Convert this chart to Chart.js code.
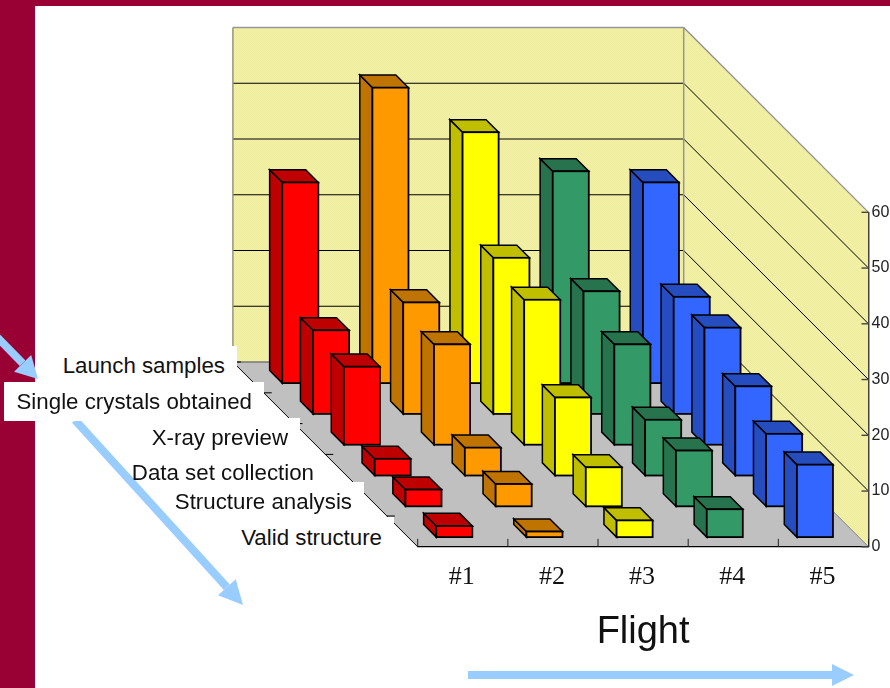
<!DOCTYPE html>
<html>
<head>
<meta charset="utf-8">
<title>Crystal growth flights</title>
<style>
    html, body { margin: 0; padding: 0; background: #fff; }
    #page { position: relative; width: 890px; height: 688px; overflow: hidden; background: #fff; }
    #strip-top { position: absolute; left: 0; top: 0; width: 890px; height: 6px; background: #990033; }
    #strip-left { position: absolute; left: 0; top: 0; width: 35px; height: 688px; background: #990033; }
    #status-chart { position: absolute; left: 0; top: 0; }
    .row-label { position: absolute; box-sizing: border-box; text-align: right; color: #111;
                 font: 22.3px "Liberation Sans", Arial, sans-serif; white-space: nowrap; background: #fff; }
    #row-0 { left: 40px;  top: 346px; width: 197px; height: 36px; line-height: 39px; padding-right: 12px; }
    #row-1 { left: 4px;   top: 382px; width: 260px; height: 39px; line-height: 40px; padding-right: 12px; }
    #row-2 { left: 130px; top: 418px; width: 170px; height: 36px; line-height: 40px; padding-right: 12px; }
    #row-3 { left: 120px; top: 456px; width: 194px; height: 26px; line-height: 34px; background: none; }
    #row-4 { left: 172px; top: 482px; width: 192px; height: 35px; line-height: 40px; padding-right: 12px; }
    #row-5 { left: 225px; top: 517px; width: 169px; height: 38px; line-height: 42px; padding-right: 12px; }
</style>
</head>
<body>
<div id="page">
    <div id="strip-top"></div>
    <div id="strip-left"></div>
    <canvas id="status-chart" width="890" height="688"></canvas>
    <div class="row-label" id="row-0"></div>
    <div class="row-label" id="row-1"></div>
    <div class="row-label" id="row-2"></div>
    <div class="row-label" id="row-3"></div>
    <div class="row-label" id="row-4"></div>
    <div class="row-label" id="row-5"></div>
</div>
<script src="https://cdn.jsdelivr.net/npm/chart.js@4"></script>
<script>
// Chart values, back row first
const flights = ['#1', '#2', '#3', '#4', '#5'];
const rowLabels = ['Launch samples', 'Single crystals obtained', 'X-ray preview',
                   'Data set collection', 'Structure analysis', 'Valid structure'];
const launchSamples = [36, 53, 45, 38, 36];
const singleCrystals = [15, 20, 28, 22, 21];
const xrayPreview = [14, 18, 26, 18, 21];
const dataSetCollection = [3, 5, 14, 10, 16];
const structureAnalysis = [3, 4, 7, 10, 13];
const validStructure = [2, 1, 3, 5, 13];
const rowValues = [launchSamples, singleCrystals, xrayPreview, dataSetCollection, structureAnalysis, validStructure];

const frontColors = ['#ff0000', '#ff9900', '#ffff00', '#339966', '#3366ff'];
const shadeColors = ['#bf0000', '#bf7300', '#bfbf00', '#26734d', '#264dbf'];

// Fake 3D projection: each row moves the drawing up and to the left
const rowStepX = 30.8;
const rowStepY = 30.8;
const rowGapX = 8.5;
const rowGapY = 9.7;
const barDepth = 12.6;
const wallDepthX = rowStepX * rowLabels.length;
const wallDepthY = rowStepY * rowLabels.length;

rowLabels.forEach((label, i) => {
    document.getElementById('row-' + i).textContent = label;
});

function polygon(ctx, points, fill, stroke, width) {
    ctx.beginPath();
    points.forEach((p, i) => {
        if (i === 0) ctx.moveTo(p[0], p[1]);
        else ctx.lineTo(p[0], p[1]);
    });
    ctx.closePath();
    if (fill) {
        ctx.fillStyle = fill;
        ctx.fill();
    }
    if (stroke) {
        ctx.strokeStyle = stroke;
        ctx.lineWidth = width;
        ctx.stroke();
    }
}

function line(ctx, x1, y1, x2, y2, color, width) {
    ctx.beginPath();
    ctx.moveTo(x1, y1);
    ctx.lineTo(x2, y2);
    ctx.strokeStyle = color;
    ctx.lineWidth = width;
    ctx.stroke();
}

function wallPattern(ctx) {
    const tile = document.createElement('canvas');
    tile.width = 2;
    tile.height = 2;
    const t = tile.getContext('2d');
    t.fillStyle = '#f3f1a4';
    t.fillRect(0, 0, 2, 2);
    t.fillStyle = '#eeeca0';
    t.fillRect(0, 0, 1, 1);
    t.fillRect(1, 1, 1, 1);
    return ctx.createPattern(tile, 'repeat');
}

function arrow(ctx, x1, y1, x2, y2, shaft, headLength, headWidth) {
    const angle = Math.atan2(y2 - y1, x2 - x1);
    ctx.save();
    ctx.translate(x2, y2);
    ctx.rotate(angle);
    const length = Math.hypot(x2 - x1, y2 - y1);
    ctx.fillStyle = '#99ccff';
    ctx.fillRect(-length, -shaft / 2, length - headLength, shaft);
    ctx.beginPath();
    ctx.moveTo(0, 0);
    ctx.lineTo(-headLength, -headWidth / 2);
    ctx.lineTo(-headLength, headWidth / 2);
    ctx.closePath();
    ctx.fill();
    ctx.restore();
}

// Walls, floor and wall grid, drawn under the axes
const roomPlugin = {
    id: 'room',
    beforeDraw(chart) {
        const ctx = chart.ctx;
        const x = chart.scales.x;
        const y = chart.scales.y;
        const left = x.left;
        const right = x.right;
        const bottom = y.getPixelForValue(0);
        const top = y.getPixelForValue(60);
        const fill = wallPattern(ctx);

        ctx.save();
        arrow(ctx, -6, 334, 38, 379, 8, 22, 24);
        arrow(ctx, 75, 420, 243, 605, 8, 24, 24);
        arrow(ctx, 468, 675, 854, 675, 8, 22, 22);

        // back wall and right wall
        polygon(ctx, [[left - wallDepthX, top - wallDepthY], [right - wallDepthX, top - wallDepthY],
                      [right - wallDepthX, bottom - wallDepthY], [left - wallDepthX, bottom - wallDepthY]], fill);
        polygon(ctx, [[right - wallDepthX, top - wallDepthY], [right, top], [right, bottom],
                      [right - wallDepthX, bottom - wallDepthY]], fill);

        y.ticks.forEach(tick => {
            if (tick.value === 0 || tick.value === 60) return;
            const py = y.getPixelForValue(tick.value);
            line(ctx, left - wallDepthX, py - wallDepthY, right - wallDepthX, py - wallDepthY, '#000', 1);
            line(ctx, right - wallDepthX, py - wallDepthY, right, py, '#000', 1);
        });

        line(ctx, left - wallDepthX, top - wallDepthY, right - wallDepthX, top - wallDepthY, '#969696', 1.5);
        line(ctx, left - wallDepthX, top - wallDepthY, left - wallDepthX, bottom - wallDepthY, '#96967c', 1.5);
        line(ctx, right - wallDepthX, top - wallDepthY, right - wallDepthX, bottom - wallDepthY, '#969696', 1.5);
        line(ctx, right - wallDepthX, top - wallDepthY, right, top, '#8c8c8c', 1.2);

        // floor
        polygon(ctx, [[left - wallDepthX, bottom - wallDepthY], [right - wallDepthX, bottom - wallDepthY],
                      [right, bottom], [left, bottom]], '#c0c0c0');
        line(ctx, left - wallDepthX, bottom - wallDepthY, right - wallDepthX, bottom - wallDepthY, '#777', 1.5);
        line(ctx, right - wallDepthX, bottom - wallDepthY, right, bottom, '#808080', 1);
        line(ctx, left - wallDepthX, bottom - wallDepthY, left, bottom, '#000', 1);

        // row ticks along the left floor edge
        rowLabels.forEach((label, i) => {
            const tx = left - rowStepX * (i + 1);
            const ty = bottom - rowStepY * (i + 1);
            line(ctx, tx, ty, tx + 8, ty, '#000', 1);
        });
        ctx.restore();
    },
    beforeDatasetsDraw(chart) {
        const ctx = chart.ctx;
        const x = chart.scales.x;
        const y = chart.scales.y;
        const bottom = y.getPixelForValue(0);
        const band = (x.right - x.left) / flights.length;

        // ticks point inward on this chart
        for (let i = 0; i <= flights.length; i++) {
            line(ctx, x.left + band * i, bottom, x.left + band * i, bottom - 8, '#222', 1);
        }
        y.ticks.forEach(tick => {
            const py = y.getPixelForValue(tick.value);
            line(ctx, x.right - 7, py, x.right, py, '#444', 1.4);
        });
    },
    beforeDatasetDraw(chart, args) {
        const ctx = chart.ctx;
        const row = chart.data.datasets[args.index].row;
        const depth = rowLabels.length - 1 - row;

        ctx.save();
        ctx.translate(-rowGapX - rowStepX * depth, -rowGapY - rowStepY * depth);

        args.meta.data.forEach((bar, i) => {
            const l = bar.x - bar.width / 2;
            const r = bar.x + bar.width / 2;
            const shade = shadeColors[i];
            polygon(ctx, [[l, bar.y], [l - barDepth, bar.y - barDepth], [l - barDepth, bar.base - barDepth], [l, bar.base]],
                    shade, '#000', 1.5);
            polygon(ctx, [[l, bar.y], [r, bar.y], [r - barDepth, bar.y - barDepth], [l - barDepth, bar.y - barDepth]],
                    shade, '#000', 1.5);
        });
    },
    afterDatasetDraw(chart, args) {
        const ctx = chart.ctx;
        // outline of the front faces
        args.meta.data.forEach(bar => {
            ctx.strokeStyle = '#000';
            ctx.lineWidth = 1.8;
            ctx.strokeRect(bar.x - bar.width / 2, bar.y, bar.width, bar.base - bar.y);
        });
        ctx.restore();
    }
};

function renderChart() {
    const ctx = document.getElementById('status-chart').getContext('2d');

    new Chart(ctx, {
        type: 'bar',
        plugins: [roomPlugin],
        data: {
            labels: flights,
            datasets: rowValues.map((values, i) => ({
                label: rowLabels[i],
                row: i,
                order: rowLabels.length - i,
                data: values,
                backgroundColor: frontColors,
                barPercentage: 0.4,
                categoryPercentage: 1,
                grouped: false,
                clip: false
            }))
        },
        options: {
            responsive: false,
            animation: false,
            layout: { padding: { left: 417.7, top: 212.3, right: 0, bottom: 0 } },
            plugins: {
                legend: { display: false },
                tooltip: { enabled: false }
            },
            scales: {
                x: {
                    afterFit(scale) { scale.height = 141.2; },
                    grid: { display: false, drawTicks: false },
                    border: { color: '#000', width: 1.2 },
                    ticks: {
                        color: '#111',
                        padding: 15,
                        labelOffset: -1,
                        maxRotation: 0,
                        font: { family: '"Liberation Serif", "Times New Roman", serif', size: 26 }
                    },
                    title: {
                        display: true,
                        text: 'Flight',
                        color: '#111',
                        padding: { top: 0, bottom: 33 },
                        font: { family: '"Liberation Sans", Arial, sans-serif', size: 38 }
                    }
                },
                y: {
                    position: 'right',
                    min: 0,
                    max: 60,
                    afterFit(scale) { scale.width = 21.5; },
                    grid: { display: false, drawTicks: false },
                    border: { color: '#444', width: 1.5 },
                    ticks: {
                        stepSize: 10,
                        color: '#222',
                        padding: 3,
                        font: { family: '"Liberation Sans", Arial, sans-serif', size: 16 }
                    }
                }
            }
        }
    });
}

renderChart();
</script>
</body>
</html>
